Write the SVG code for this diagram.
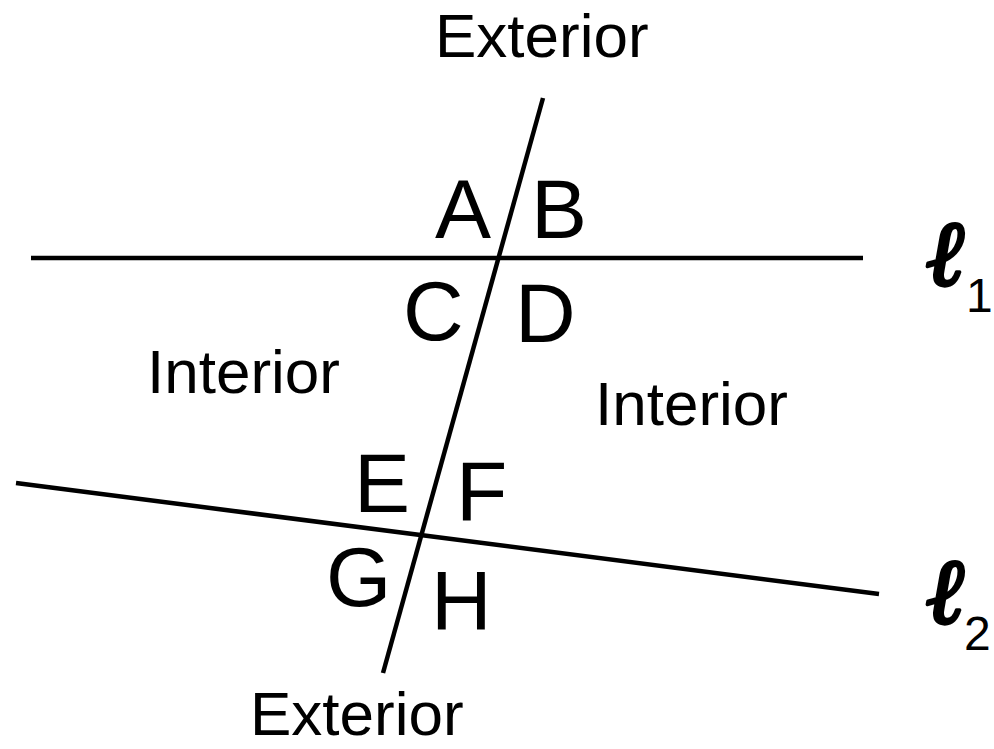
<svg xmlns="http://www.w3.org/2000/svg" width="994" height="749" viewBox="0 0 994 749">
<style>
.ln{stroke:#000;stroke-width:4.5;fill:none;stroke-linecap:butt}
.lbl{font-family:"Liberation Sans",Arial,sans-serif;font-size:84px;fill:#000}
.reg{font-family:"Liberation Sans",Arial,sans-serif;font-size:62px;fill:#000}
.ell{font-family:"DejaVu Serif",serif;font-style:italic;font-weight:bold;font-size:92px;fill:#000;stroke:#000;stroke-width:3.5;stroke-linejoin:round}
.sub{font-family:"Liberation Sans",Arial,sans-serif;font-size:48px;fill:#000}
</style>
<rect width="994" height="749" fill="#fff"/>
<g id="connectors">
<line id="line1" class="ln" x1="31" y1="258" x2="863" y2="258"/>
<line id="line2" class="ln" x1="16" y1="483" x2="879" y2="594"/>
<line id="transversal" class="ln" x1="543" y1="98" x2="383" y2="673"/>
</g>
<g id="labels-angles">
<text class="lbl" x="435" y="238">A</text>
<text class="lbl" x="531" y="238">B</text>
<text class="lbl" x="403" y="340">C</text>
<text class="lbl" x="515" y="342">D</text>
<text class="lbl" x="354" y="512">E</text>
<text class="lbl" x="456" y="520">F</text>
<text class="lbl" x="326" y="606">G</text>
<text class="lbl" x="431" y="630">H</text>
</g>
<g id="labels-regions">
<text class="reg" x="435" y="57">Exterior</text>
<text class="reg" x="147" y="393">Interior</text>
<text class="reg" x="595" y="425">Interior</text>
<text class="reg" x="250" y="735">Exterior</text>
</g>
<g id="l1-label">
<text class="ell" x="927" y="285">ℓ</text>
<text class="sub" x="966" y="312">1</text>
</g>
<g id="l2-label">
<text class="ell" x="927" y="623">ℓ</text>
<text class="sub" x="964" y="650">2</text>
</g>
</svg>
